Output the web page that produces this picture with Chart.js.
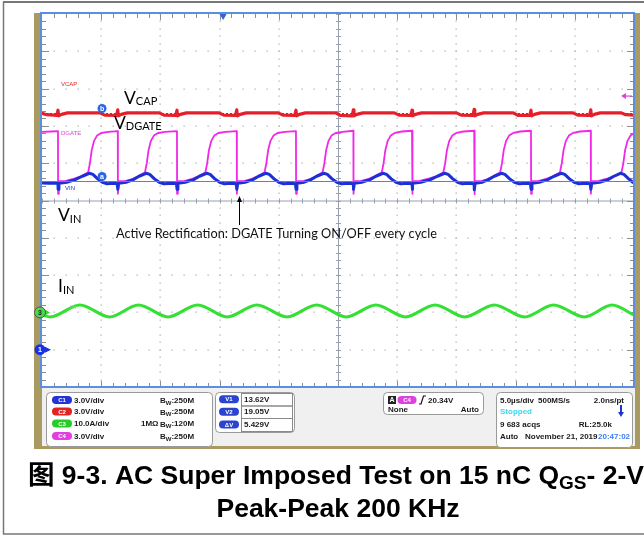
<!DOCTYPE html>
<html><head><meta charset="utf-8">
<script src="https://cdn.jsdelivr.net/npm/chart.js@4.4.0/dist/chart.umd.min.js"></script>
<style>html,body{margin:0;padding:0;background:#fff;overflow:hidden}canvas{display:block}</style>
</head><body>
<canvas id="c" width="644" height="535" style="width:644px;height:535px"></canvas>
<script>
// ---- axis setup: 10 horizontal divisions x 5 us/div, 10 vertical divisions ----
const timeMin = 0, timeMax = 50;      // microseconds
const divMin = -5, divMax = 5;        // screen divisions

// ---- C2 VCAP (red), values in divisions ----
const vcapTime = [0,0.4,1.25,1.35,1.4,1.65,2.15, 4.9,5.3,6.3,6.4,6.45,6.7,7.2, 9.9,10.3,11.3,11.4,11.45,11.7,12.2,
  14.95,15.35,16.35,16.45,16.5,16.75,17.25, 19.95,20.35,21.35,21.45,21.5,21.75,22.25, 24.8,25.2,26.2,26.3,26.35,26.6,27.1,
  29.75,30.15,31.15,31.25,31.3,31.55,32.05, 35.0,35.4,36.4,36.5,36.55,36.8,37.3, 39.8,40.2,41.2,41.3,41.35,41.6,42.1,
  44.85,45.25,46.25,46.35,46.4,46.65,47.15, 48.9,49.3,50];
const vcapDiv = [2.34,2.30,2.28,2.42,2.27,2.31,2.35, 2.35,2.29,2.28,2.43,2.27,2.31,2.35, 2.35,2.29,2.28,2.42,2.27,2.31,2.35,
  2.35,2.29,2.28,2.43,2.27,2.31,2.35, 2.35,2.29,2.28,2.42,2.27,2.31,2.35, 2.35,2.28,2.27,2.43,2.27,2.31,2.35,
  2.35,2.29,2.28,2.42,2.27,2.31,2.35, 2.35,2.29,2.28,2.44,2.27,2.31,2.35, 2.35,2.28,2.28,2.42,2.27,2.31,2.35,
  2.35,2.29,2.28,2.43,2.27,2.31,2.35, 2.35,2.30,2.29];

// ---- C4 DGATE (magenta) ----
const dgateTime = [0,0.8,
  1.35,1.36,1.42,1.95,2.55,3.4,3.9,4.05,4.2,4.4,4.65,5.0,5.6,
  6.4,6.41,6.47,7.0,7.6,8.2,8.7,8.85,9.0,9.2,9.45,9.8,10.4,
  11.4,11.41,11.47,12.0,12.6,13.3,13.8,13.95,14.1,14.3,14.55,14.9,15.5,
  16.45,16.46,16.52,17.05,17.65,18.3,18.8,18.95,19.1,19.3,19.55,19.9,20.5,
  21.45,21.46,21.52,22.05,22.65,23.2,23.7,23.85,24.0,24.2,24.45,24.8,25.4,
  26.3,26.31,26.37,26.9,27.5,28.2,28.7,28.85,29.0,29.2,29.45,29.8,30.4,
  31.25,31.26,31.32,31.85,32.45,33.4,33.9,34.05,34.2,34.4,34.65,35.0,35.6,
  36.5,36.51,36.57,37.1,37.6,38.2,38.7,38.85,39.0,39.2,39.45,39.8,40.4,
  41.3,41.31,41.37,41.9,42.5,43.25,43.75,43.9,44.05,44.25,44.5,44.85,45.45,
  46.35,46.36,46.42,46.95,47.55,48.45,48.95,49.1,49.25,49.45,49.7,50];
const dgateDiv = [1.84,1.85,
  1.86,0.18,0.52,0.52,0.57,0.66,0.76,1.0,1.35,1.6,1.74,1.81,1.84,
  1.86,0.18,0.52,0.52,0.57,0.66,0.76,1.0,1.35,1.6,1.74,1.81,1.84,
  1.86,0.18,0.52,0.52,0.57,0.66,0.76,1.0,1.35,1.6,1.74,1.81,1.84,
  1.86,0.18,0.52,0.52,0.57,0.66,0.76,1.0,1.35,1.6,1.74,1.81,1.84,
  1.86,0.18,0.52,0.52,0.57,0.66,0.76,1.0,1.35,1.6,1.74,1.81,1.84,
  1.87,0.18,0.52,0.52,0.57,0.66,0.76,1.0,1.35,1.6,1.74,1.81,1.85,
  1.87,0.18,0.52,0.52,0.57,0.66,0.76,1.0,1.35,1.6,1.74,1.81,1.85,
  1.87,0.17,0.52,0.52,0.57,0.66,0.76,1.0,1.35,1.6,1.74,1.81,1.85,
  1.87,0.18,0.52,0.52,0.57,0.66,0.76,1.0,1.35,1.6,1.74,1.81,1.85,
  1.87,0.18,0.52,0.52,0.57,0.66,0.76,1.0,1.35,1.6,1.74,1.80];

// ---- C1 VIN (blue) ----
const vinTime = [0,0.6,
  1.3,1.35,1.36,1.43,2.1,2.8,3.4,4.0,4.3,4.7,5.1,5.5,6.0,
  6.35,6.4,6.41,6.48,7.1,7.7,8.2,8.8,9.1,9.5,9.9,10.3,11.0,
  11.35,11.4,11.41,11.48,12.1,12.8,13.3,13.9,14.2,14.6,15.0,15.4,16.0,
  16.4,16.45,16.46,16.53,17.15,17.8,18.3,18.9,19.2,19.6,20.0,20.4,21.0,
  21.4,21.45,21.46,21.53,22.15,22.7,23.2,23.8,24.1,24.5,24.9,25.3,25.9,
  26.25,26.3,26.31,26.38,27.0,27.7,28.2,28.8,29.1,29.5,29.9,30.3,30.9,
  31.2,31.25,31.26,31.33,32.0,32.8,33.4,34.0,34.3,34.7,35.1,35.5,36.0,
  36.45,36.5,36.51,36.58,37.2,37.7,38.2,38.8,39.1,39.5,39.9,40.3,40.9,
  41.25,41.3,41.31,41.38,42.0,42.7,43.25,43.85,44.15,44.55,44.95,45.35,45.9,
  46.3,46.35,46.36,46.43,47.1,47.8,48.3,48.85,49.15,49.55,49.9,50];
const vinDiv = [0.47,0.46,
  0.46,0.45,0.30,0.46,0.49,0.56,0.65,0.73,0.70,0.58,0.49,0.45,0.46,
  0.45,0.45,0.30,0.46,0.49,0.56,0.65,0.73,0.70,0.58,0.49,0.45,0.46,
  0.45,0.45,0.30,0.46,0.49,0.56,0.65,0.73,0.70,0.58,0.49,0.45,0.46,
  0.45,0.45,0.30,0.46,0.49,0.56,0.65,0.73,0.70,0.58,0.49,0.45,0.46,
  0.45,0.45,0.30,0.46,0.49,0.56,0.65,0.73,0.70,0.58,0.49,0.45,0.46,
  0.45,0.45,0.30,0.46,0.49,0.56,0.65,0.73,0.70,0.58,0.49,0.45,0.46,
  0.45,0.45,0.30,0.46,0.49,0.56,0.65,0.73,0.70,0.58,0.49,0.45,0.46,
  0.45,0.45,0.29,0.46,0.49,0.56,0.65,0.73,0.70,0.58,0.49,0.45,0.46,
  0.45,0.45,0.30,0.46,0.49,0.56,0.65,0.73,0.70,0.58,0.49,0.45,0.46,
  0.45,0.45,0.30,0.46,0.49,0.56,0.65,0.73,0.70,0.58,0.49,0.48];

// ---- C3 IIN (green), peaks and troughs ----
const iinTime = [0,0.7,3.2,5.7,8.15,10.65,13.15,15.65,18.15,20.7,23.2,25.7,28.2,30.7,33.2,35.7,38.2,40.75,43.2,45.8,48.15,50];
const iinDiv  = [-3.06,-3.12,-2.80,-3.12,-2.80,-3.12,-2.80,-3.12,-2.80,-3.12,-2.80,-3.12,-2.80,-3.12,-2.80,-3.12,-2.80,-3.12,-2.80,-3.12,-2.80,-3.07];

// ---- cursors / reference markers (in divisions / us) ----
const cursorA = 0.52, cursorB = 2.35, cursorLabelTime = 5.07;
const ch3Ground = -3.0, ch1Ground = -4.0, triggerTime = 15.3, c4TrigLevel = 2.8;

// ---- readout texts ----
const chNames = ['C1','C2','C3','C4'];
const chScales = ['3.0V/div','3.0V/div','10.0A/div','3.0V/div'];
const chBw = [':250M',':250M',':120M',':250M'];
const chColors = ['#2233d8','#e02424','#28cc28','#e040e0'];
const cursorNames = ['V1','V2','\u0394V'];
const cursorValues = ['13.62V','19.05V','5.429V'];

const OLIVE = '#a99a62';
const FONT = '"Liberation Sans", Arial, sans-serif';
const ANN = 'Lato, "Open Sans", sans-serif';

function zip(t, v){ return t.map((x,i)=>({x:x, y:v[i]})); }

function rr(c,x,y,w,h,r){ c.beginPath(); c.moveTo(x+r,y); c.lineTo(x+w-r,y); c.arcTo(x+w,y,x+w,y+r,r); c.lineTo(x+w,y+h-r); c.arcTo(x+w,y+h,x+w-r,y+h,r); c.lineTo(x+r,y+h); c.arcTo(x,y+h,x,y+h-r,r); c.lineTo(x,y+r); c.arcTo(x,y,x+r,y,r); c.closePath(); }
function txt(c,s,x,y,font,color,align,base){ c.font=font; c.fillStyle=color; c.textAlign=align||'left'; c.textBaseline=base||'alphabetic'; c.fillText(s,x,y); }
function pill(c,cx,cy,w,h,color,label){ rr(c,cx-w/2,cy-h/2,w,h,h/2); c.fillStyle=color; c.fill(); txt(c,label,cx,cy+0.5,'bold 6px '+FONT,'#fff','center','middle'); }
function box(c,x,y,w,h){ rr(c,x+0.5,y+0.5,w,h,4); c.fillStyle='#fff'; c.fill(); c.strokeStyle='#9a9a9a'; c.lineWidth=1; c.stroke(); }
function sub(c,main,subs,x,y,f1,f2,dy,color){ c.font=f1; c.fillStyle=color; c.textAlign='left'; c.textBaseline='alphabetic'; c.fillText(main,x,y); const w=c.measureText(main).width; c.font=f2; c.fillText(subs,x+w,y+dy); return x+w+c.measureText(subs).width; }

const bgPlugin = {
  id:'scopeBg',
  beforeDraw(chart){
    const c=chart.ctx, a=chart.chartArea, xs=chart.scales.x, ys=chart.scales.y;
    c.save();
    c.fillStyle='#fff'; c.fillRect(0,0,644,535);
    // figure frame
    c.strokeStyle='#777'; c.lineWidth=2;
    c.beginPath(); c.moveTo(3,2); c.lineTo(644,2); c.stroke();
    c.lineWidth=1.5;
    c.beginPath(); c.moveTo(3.5,2); c.lineTo(3.5,534); c.lineTo(644,534); c.stroke();
    // olive scope frame
    c.fillStyle=OLIVE;
    c.fillRect(34,13,8,436); c.fillRect(635,13,5,436); c.fillRect(34,446,606,3);
    c.fillStyle='#f0f0f0'; c.fillRect(42,388,593,58);
    c.fillStyle='#fff'; c.fillRect(a.left,a.top,a.width,a.height);
    // dotted graticule
    c.fillStyle='#b4b4b4';
    for(let i=5;i<50;i+=5){ if(i===25) continue; const x=xs.getPixelForValue(i);
      for(let j=0;j<=50;j++){ const y=ys.getPixelForValue(divMin+j*0.2); c.fillRect(Math.round(x)-0.5,Math.round(y)-0.5,1.3,1.3);} }
    for(let k=-4;k<=4;k++){ if(k===0) continue; const y=ys.getPixelForValue(k);
      for(let i=0;i<=50;i++){ const x=xs.getPixelForValue(i); c.fillRect(Math.round(x)-0.5,Math.round(y)-0.5,1.3,1.3);} }
    // centre cross
    const cx=xs.getPixelForValue(25), cy=ys.getPixelForValue(0);
    c.strokeStyle='#98a0b0'; c.lineWidth=1;
    c.beginPath(); c.moveTo(cx+0.5,a.top); c.lineTo(cx+0.5,a.bottom); c.moveTo(a.left,cy+0.5); c.lineTo(a.right,cy+0.5); c.stroke();
    c.beginPath();
    for(let j=0;j<=50;j++){ const y=Math.round(ys.getPixelForValue(divMin+j*0.2))+0.5; c.moveTo(cx-2,y); c.lineTo(cx+3,y); }
    for(let i=0;i<=50;i++){ const x=Math.round(xs.getPixelForValue(i))+0.5; c.moveTo(x,cy-2); c.lineTo(x,cy+3); }
    c.stroke();
    // edge ticks
    c.strokeStyle='#8e8e8e'; c.beginPath();
    for(let i=1;i<50;i++){ const x=Math.round(xs.getPixelForValue(i))+0.5; const L=(i%5===0)?6:4;
      c.moveTo(x,a.top); c.lineTo(x,a.top+L); c.moveTo(x,a.bottom); c.lineTo(x,a.bottom-L); }
    for(let j=1;j<50;j++){ const y=Math.round(ys.getPixelForValue(divMin+j*0.2))+0.5; const L=(j%5===0)?7:4;
      c.moveTo(a.left,y); c.lineTo(a.left+L,y); c.moveTo(a.right,y); c.lineTo(a.right-L,y); }
    c.stroke();
    c.restore();
  }
};

const overlayPlugin = {
  id:'scopeOverlay',
  afterDatasetsDraw(chart){
    const c=chart.ctx, a=chart.chartArea, xs=chart.scales.x, ys=chart.scales.y;
    c.save();
    // cursors
    const ya=Math.round(ys.getPixelForValue(cursorA))+0.5, yb=Math.round(ys.getPixelForValue(cursorB))+0.5;
    c.strokeStyle='#5a78ff'; c.lineWidth=1;
    c.beginPath(); c.moveTo(a.left,ya); c.lineTo(a.right,ya); c.stroke();
    c.strokeStyle='#4a4ab8'; c.setLineDash([2,2]);
    c.beginPath(); c.moveTo(a.left,yb); c.lineTo(a.right,yb); c.stroke(); c.setLineDash([]);
    const lx=xs.getPixelForValue(cursorLabelTime);
    [['b',yb-5],['a',ya-5]].forEach(([l,y])=>{ c.beginPath(); c.arc(lx,y,4.5,0,Math.PI*2); c.fillStyle='#2a66e8'; c.fill();
      txt(c,l,lx,y+0.5,'bold 7px '+FONT,'#fff','center','middle'); });
    // plot border
    c.strokeStyle='#5a8ee0'; c.lineWidth=2;
    c.strokeRect(a.left-1,a.top-1,a.width+1,a.height+1);
    // trigger position marker
    const tx=xs.getPixelForValue(triggerTime);
    c.fillStyle='#2f63e0'; c.beginPath(); c.moveTo(tx-3.5,a.top); c.lineTo(tx+3.5,a.top); c.lineTo(tx,a.top+6); c.closePath(); c.fill();
    // C4 trigger level arrow
    const ty=ys.getPixelForValue(c4TrigLevel);
    c.strokeStyle='#e040e0'; c.fillStyle='#e040e0'; c.lineWidth=1.2;
    c.beginPath(); c.moveTo(624,ty); c.lineTo(632,ty); c.stroke();
    c.beginPath(); c.moveTo(621,ty); c.lineTo(626,ty-3); c.lineTo(626,ty+3); c.closePath(); c.fill();
    // channel ground markers
    const g3=ys.getPixelForValue(ch3Ground), g1=ys.getPixelForValue(ch1Ground);
    c.fillStyle='#3ad83a'; c.beginPath(); c.moveTo(45,g3-3); c.lineTo(50,g3); c.lineTo(45,g3+3); c.fill();
    c.beginPath(); c.arc(40,g3,5.5,0,Math.PI*2); c.fillStyle='#4cd84c'; c.fill(); c.strokeStyle='#555'; c.lineWidth=1; c.stroke();
    txt(c,'3',40,g3+0.5,'bold 7px '+FONT,'#222','center','middle');
    c.fillStyle='#1a33e0'; c.beginPath(); c.moveTo(45,g1-3); c.lineTo(51,g1); c.lineTo(45,g1+3); c.fill();
    c.beginPath(); c.arc(40,g1,5.5,0,Math.PI*2); c.fill();
    txt(c,'1',40,g1+0.5,'bold 7px '+FONT,'#fff','center','middle');
    // tiny channel labels
    txt(c,'VCAP',61,86,'6px '+FONT,'#e02424');
    txt(c,'DGATE',61,135,'6px '+FONT,'#e040e0');
    txt(c,'VIN',65,190,'6px '+FONT,'#2233d8');
    txt(c,'IIN',70,309,'5px '+FONT,'#7ae07a');
    // annotations
    const f1='17.5px '+ANN, f2='11px '+ANN;
    sub(c,'V','CAP',124,104,f1,f2,1,'#000');
    sub(c,'V','DGATE',114,129,f1,f2,1,'#000');
    sub(c,'V','IN',58,221,f1,f2,2,'#000');
    sub(c,'I','IN',58,292,f1,f2,2,'#000');
    // arrow
    c.strokeStyle='#000'; c.lineWidth=1; c.beginPath(); c.moveTo(239.5,200); c.lineTo(239.5,225); c.stroke();
    c.fillStyle='#000'; c.beginPath(); c.moveTo(239.5,196); c.lineTo(237,202); c.lineTo(242,202); c.closePath(); c.fill();
    const note='Active Rectification: DGATE Turning ON/OFF every cycle';
    c.font='12px '+ANN; const nw=c.measureText(note).width; const nf=12*321/nw;
    txt(c,note,116,238,nf.toFixed(2)+'px '+ANN,'#111');
    // ---- readout panel ----
    box(c,46,392,166,54);
    const rows=[400,411.5,423.5,436];
    for(let i=0;i<4;i++){
      pill(c,62,rows[i],20,8,chColors[i],chNames[i]);
      txt(c,chScales[i],74,rows[i]+0.5,'bold 8px '+FONT,'#1a1a1a','left','middle');
      const e=sub(c,'B','W',160,rows[i]+3,'bold 8px '+FONT,'bold 6px '+FONT,1.5,'#1a1a1a');
      txt(c,chBw[i],e,rows[i]+0.5,'bold 8px '+FONT,'#1a1a1a','left','middle');
    }
    txt(c,'1M\u03A9',141,rows[2]+0.5,'bold 8px '+FONT,'#1a1a1a','left','middle');
    box(c,215,392,79,40);
    const crow=[393,405.5,418,431];
    c.strokeStyle='#8a8a8a'; c.lineWidth=1;
    for(let i=0;i<3;i++){
      c.strokeRect(241.5,crow[i]+0.5,51,crow[i+1]-crow[i]);
      pill(c,229,(crow[i]+crow[i+1])/2,20,8,'#2a44d0',cursorNames[i]);
      txt(c,cursorValues[i],244,(crow[i]+crow[i+1])/2+0.5,'bold 8px '+FONT,'#1a1a1a','left','middle');
    }
    box(c,383,392,100,22);
    c.fillStyle='#222'; c.fillRect(388,396,8,8); txt(c,'A',392,400.5,'bold 7px '+FONT,'#fff','center','middle');
    pill(c,407,400,19,8,'#e040e0','C4');
    c.strokeStyle='#111'; c.lineWidth=1.2; c.beginPath(); c.moveTo(419,404); c.lineTo(421,404); c.lineTo(423.5,396); c.lineTo(426,396); c.stroke();
    txt(c,'20.34V',428,400.5,'bold 8px '+FONT,'#1a1a1a','left','middle');
    txt(c,'None',388,409.5,'bold 8px '+FONT,'#1a1a1a','left','middle');
    txt(c,'Auto',479,409.5,'bold 8px '+FONT,'#1a1a1a','right','middle');
    box(c,496,392,136,55);
    txt(c,'5.0\u00B5s/div',500,400.5,'bold 8px '+FONT,'#1a1a1a','left','middle');
    txt(c,'500MS/s',538,400.5,'bold 8px '+FONT,'#1a1a1a','left','middle');
    txt(c,'2.0ns/pt',624,400.5,'bold 8px '+FONT,'#1a1a1a','right','middle');
    txt(c,'Stopped',500,412,'bold 8px '+FONT,'#3cd8f0','left','middle');
    c.strokeStyle='#2233cc'; c.lineWidth=2; c.beginPath(); c.moveTo(621,405); c.lineTo(621,413); c.stroke();
    c.fillStyle='#2233cc'; c.beginPath(); c.moveTo(618,412); c.lineTo(624,412); c.lineTo(621,417); c.closePath(); c.fill();
    txt(c,'9 683 acqs',500,424.5,'bold 8px '+FONT,'#1a1a1a','left','middle');
    txt(c,'RL:25.0k',612,424.5,'bold 8px '+FONT,'#1a1a1a','right','middle');
    txt(c,'Auto',500,437,'bold 8px '+FONT,'#1a1a1a','left','middle');
    txt(c,'November 21, 2019',525,437,'bold 8px '+FONT,'#1a1a1a','left','middle');
    txt(c,'20:47:02',598,437,'bold 8px '+FONT,'#3a80f0','left','middle');
    // ---- caption ----
    const cf='bold 26.5px '+FONT+', "Noto Sans CJK SC"';
    let e2=sub(c,'\u56FE 9-3. AC Super Imposed Test on 15 nC Q','GS',28,484,cf,'bold 19px '+FONT,5,'#000');
    txt(c,'- 2-V',e2,484,cf,'#000');
    txt(c,'Peak-Peak 200 KHz',338,517,cf,'#000','center');
    c.restore();
  }
};

new Chart(document.getElementById('c').getContext('2d'), {
  type:'line',
  data:{ datasets:[
    { label:'VCAP', data:zip(vcapTime,vcapDiv), borderColor:'#e5202a', borderWidth:3.2, pointRadius:0, tension:0, order:1 },
    { label:'VIN', data:zip(vinTime,vinDiv), borderColor:'#1d2fd6', borderWidth:3, pointRadius:0, tension:0, order:2 },
    { label:'DGATE', data:zip(dgateTime,dgateDiv), borderColor:'#f028e8', borderWidth:1.8, pointRadius:0, tension:0, order:3 },
    { label:'IIN', data:zip(iinTime,iinDiv), borderColor:'#33e033', borderWidth:3, pointRadius:0, cubicInterpolationMode:'monotone', order:4 }
  ]},
  options:{
    responsive:false, animation:false, devicePixelRatio:1,
    elements:{ line:{ borderJoinStyle:'round', borderCapStyle:'round' } },
    layout:{ padding:{ left:42, top:14, right:10, bottom:148 } },
    plugins:{ legend:{display:false}, tooltip:{enabled:false}, title:{display:false} },
    scales:{
      x:{ type:'linear', min:timeMin, max:timeMax, display:false },
      y:{ type:'linear', min:divMin, max:divMax, display:false }
    }
  },
  plugins:[bgPlugin, overlayPlugin]
});
</script>
</body></html>
